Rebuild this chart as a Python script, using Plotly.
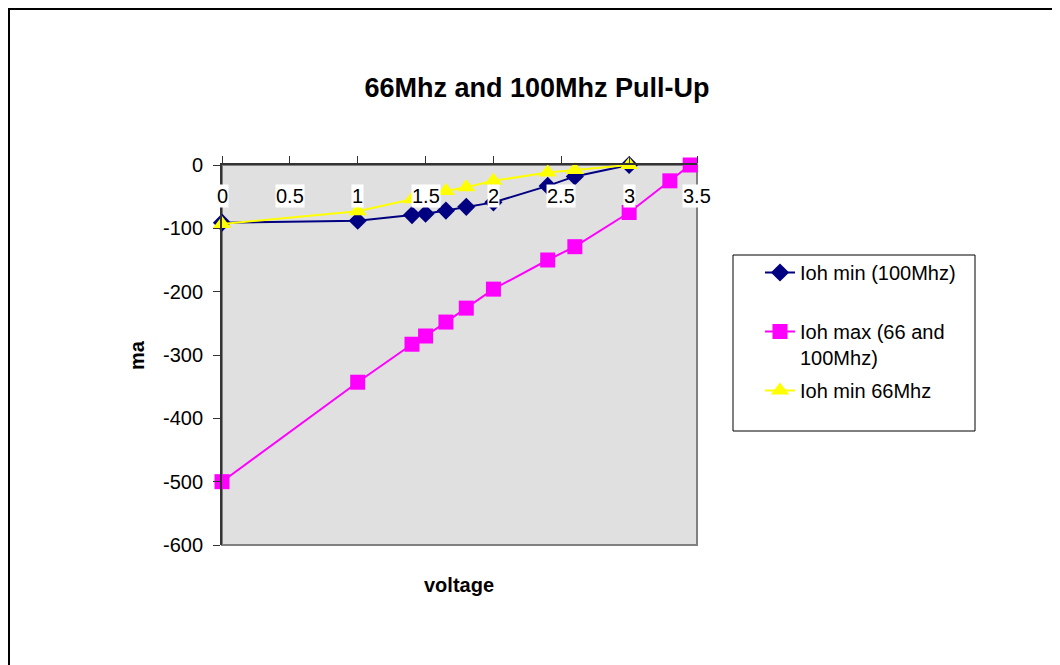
"""Excel-style pull-up current chart rebuilt with Plotly."""

import plotly.graph_objects as go

# data
volt_min100 = [0, 1, 1.4, 1.5, 1.65, 1.8, 2.0, 2.4, 2.6, 3.0]
ioh_min100 = [-91, -88, -79, -77, -72, -66, -59, -33, -18, 0]

volt_max = [0, 1, 1.4, 1.5, 1.65, 1.8, 2.0, 2.4, 2.6, 3.0, 3.3, 3.45]
ioh_max = [-500, -343, -283, -270, -248, -226, -196, -150, -129, -75, -25, 0]

volt_min66 = [0, 1, 1.4, 1.5, 1.65, 1.8, 2.0, 2.4, 2.6, 3.0]
ioh_min66 = [-93, -73, -54, -48, -41, -35, -25, -12, -8, 0]

x_ticks = [0, 0.5, 1, 1.5, 2, 2.5, 3, 3.5]
x_tick_text = ["0", "0.5", "1", "1.5", "2", "2.5", "3", "3.5"]
y_ticks = [0, -100, -200, -300, -400, -500, -600]
y_tick_text = ["0", "-100", "-200", "-300", "-400", "-500", "-600"]

FONT = "Liberation Sans, Arial, sans-serif"
OFF = 8  # page body margin pushes the figure down/right
W, H = 1060, 665
# plot area in screenshot pixels
L, R, T, B = 222 - OFF, 697 - OFF, 165 - OFF, 545 - OFF


def px(x):
    return (x - OFF - L) / (R - L)


def py(y):
    return (B - (y - OFF)) / (B - T)


fig = go.Figure()
fig.add_trace(go.Scatter(
    x=volt_min100, y=ioh_min100, mode="lines+markers",
    name="Ioh min (100Mhz)<br> ", legendgroup="a", cliponaxis=False,
    line=dict(color="#000080", width=2),
    marker=dict(symbol="diamond", size=14, color="#000080"),
))
fig.add_trace(go.Scatter(
    x=volt_max, y=ioh_max, mode="lines+markers",
    name="Ioh max (66 and<br>100Mhz)", legendgroup="b", cliponaxis=False,
    line=dict(color="#ff00ff", width=2),
    marker=dict(symbol="square", size=15, color="#ff00ff"),
))
fig.add_trace(go.Scatter(
    x=volt_min66, y=ioh_min66, mode="lines+markers",
    name="Ioh min 66Mhz", legendgroup="c", cliponaxis=False,
    line=dict(color="#ffff00", width=2),
    marker=dict(symbol="triangle-up", size=16, color="#ffff00"),
))

annotations = [
    dict(x=v, y=1, xref="x", yref="paper", text=t, showarrow=False,
         yanchor="top", yshift=-19, bgcolor="white", borderpad=0,
         font=dict(family=FONT, size=20, color="black"))
    for v, t in zip(x_ticks, x_tick_text)
]
annotations += [
    dict(x=px(459), y=py(585), xref="paper", yref="paper", text="<b>voltage</b>",
         xanchor="center", yanchor="middle", showarrow=False,
         font=dict(family=FONT, size=20, color="black")),
    dict(x=px(137), y=py(355), xref="paper", yref="paper", text="<b>ma</b>",
         xanchor="center", yanchor="middle", showarrow=False, textangle=-90,
         font=dict(family=FONT, size=20, color="black")),
]

shapes = [
    # plot area frame (grey)
    dict(type="rect", xref="paper", yref="paper", x0=0, x1=1, y0=0, y1=1,
         line=dict(color="#808080", width=2), layer="below"),
    # chart frame, runs off the right and bottom edge
    dict(type="rect", xref="paper", yref="paper", x0=px(9), x1=px(1090), y0=py(700), y1=py(9),
         line=dict(color="black", width=2)),
    # legend box
    dict(type="rect", xref="paper", yref="paper", x0=px(733), x1=px(975), y0=py(431), y1=py(255),
         line=dict(color="black", width=1)),
]

fig.update_layout(
    width=W, height=H,
    margin=dict(l=L, r=W - R, t=T, b=H - B, pad=0),
    paper_bgcolor="white",
    plot_bgcolor="#e0e0e0",
    font=dict(family=FONT, size=20, color="black"),
    title=dict(text="<b>66Mhz and 100Mhz Pull-Up</b>", x=(537 - OFF) / W, y=1 - (88 - OFF) / H,
               xanchor="center", yanchor="middle", xref="container", yref="container",
               font=dict(family=FONT, size=27, color="black")),
    xaxis=dict(range=[0, 3.5], side="top", tickvals=x_ticks, showticklabels=False,
               ticks="outside", ticklen=7, tickcolor="#333", showline=True, linecolor="#333",
               linewidth=2, showgrid=False, zeroline=False, fixedrange=True),
    yaxis=dict(range=[-600, 0], tickvals=y_ticks, ticktext=y_tick_text, ticks="outside",
               ticklen=7, tickcolor="#333", ticklabelstandoff=6,
               showline=True, linecolor="#333", linewidth=2, showgrid=False, zeroline=False,
               tickfont=dict(family=FONT, size=20), fixedrange=True),
    legend=dict(x=px(760), y=py(253), xanchor="left", yanchor="top", bgcolor="rgba(0,0,0,0)",
                borderwidth=0, valign="top", tracegroupgap=4,
                font=dict(family=FONT, size=20, color="black")),
    showlegend=True,
    annotations=annotations,
    shapes=shapes,
)

fig.write_html("out.html")
